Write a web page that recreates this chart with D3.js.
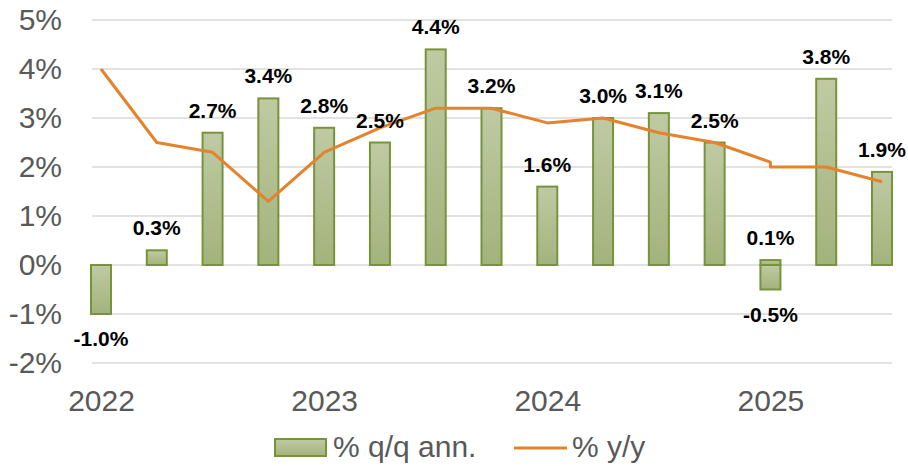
<!DOCTYPE html>
<html>
<head>
<meta charset="utf-8">
<title>GDP growth</title>
<script src="https://cdn.jsdelivr.net/npm/d3@7"></script>
<style>
body { margin: 0; background: #fff; }
svg { font-family: "Liberation Sans", Arial, sans-serif; }
.grid line { stroke: #d9d9d9; stroke-width: 1.5px; }
.axis text { fill: #595959; font-size: 30px; }
.axis path, .axis line { display: none; }
.lbl { font-size: 21px; font-weight: bold; fill: #000; text-anchor: middle; }
.legend text { fill: #595959; font-size: 30px; }
</style>
</head>
<body>
<svg width="908" height="466"></svg>
<script>
// quarters (2025Q1 shows up twice in the source data)
var quarters = ["2022Q1","2022Q2","2022Q3","2022Q4",
                "2023Q1","2023Q2","2023Q3","2023Q4",
                "2024Q1","2024Q2","2024Q3","2024Q4",
                "2025Q1","2025Q1","2025Q2","2025Q3"];
var qoqAnn = [-1.0, 0.3, 2.7, 3.4, 2.8, 2.5, 4.4, 3.2, 1.6, 3.0, 3.1, 2.5, -0.5, 0.1, 3.8, 1.9];
var yoy    = [4.0, 2.5, 2.3, 1.3, 2.3, 2.8, 3.2, 3.2, 2.9, 3.0, 2.7, 2.5, 2.1, 2.0, 2.0, 1.7];
var yearLabels = ["2022", "2023", "2024", "2025"];
var yTicks = [-2, -1, 0, 1, 2, 3, 4, 5];

var svg = d3.select("svg");

// quarter string -> index from 2022Q1
function qIndex(s) {
  return (+s.slice(0, 4) - 2022) * 4 + (+s.slice(5) - 1);
}
var data = quarters.map(function(q, i) {
  return {q: q, i: qIndex(q), bar: qoqAnn[i], line: yoy[i]};
});

var x = d3.scaleLinear().domain([0, 14]).range([101, 882]),
    y = d3.scaleLinear().domain([-2, 5]).range([363, 20]);
var barW = 20;

// gradient for bars
var defs = svg.append("defs");
var grad = defs.append("linearGradient")
  .attr("id", "barGrad").attr("x1", 0).attr("y1", 0).attr("x2", 0).attr("y2", 1);
grad.append("stop").attr("offset", "0%").attr("stop-color", "#bfcaa3");
grad.append("stop").attr("offset", "100%").attr("stop-color", "#a3b37c");

// gridlines
svg.append("g").attr("class", "grid")
  .selectAll("line").data(yTicks).enter().append("line")
  .attr("x1", 92).attr("x2", 892)
  .attr("y1", function(d) { return y(d); })
  .attr("y2", function(d) { return y(d); });

// y axis
svg.append("g").attr("class", "axis")
  .attr("transform", "translate(92,0)")
  .call(d3.axisLeft(y).tickValues(yTicks).tickSize(0).tickPadding(30)
    .tickFormat(function(d) { return d + "%"; }));

// x axis, year labels at Q1
svg.append("g").attr("class", "axis")
  .attr("transform", "translate(0,363)")
  .call(d3.axisBottom(x).tickValues([0, 4, 8, 12]).tickSize(0).tickPadding(27)
    .tickFormat(function(d, k) { return yearLabels[k]; }));

// bars
svg.append("g").selectAll("rect").data(data).enter().append("rect")
  .attr("x", function(d) { return x(d.i) - barW / 2; })
  .attr("width", barW)
  .attr("y", function(d) { return y(Math.max(0, d.bar)); })
  .attr("height", function(d) { return Math.abs(y(d.bar) - y(0)); })
  .attr("fill", "url(#barGrad)")
  .attr("stroke", "#77933c")
  .attr("stroke-width", 2);

// y/y line
var line = d3.line()
  .x(function(d) { return x(d.i); })
  .y(function(d) { return y(d.line); });
svg.append("path").datum(data)
  .attr("d", line)
  .attr("fill", "none")
  .attr("stroke", "#e3832b")
  .attr("stroke-width", 3)
  .attr("stroke-linejoin", "round");

// data labels
svg.append("g").selectAll("text").data(data).enter().append("text")
  .attr("class", "lbl")
  .attr("x", function(d) { return x(d.i); })
  .attr("y", function(d) { return d.bar >= 0 ? y(d.bar) - 15 : y(d.bar) + 32; })
  .text(function(d) { return d.bar.toFixed(1) + "%"; });

// legend
var lg = svg.append("g").attr("class", "legend");
lg.append("rect").attr("x", 275).attr("y", 439).attr("width", 51).attr("height", 17)
  .attr("fill", "url(#barGrad)").attr("stroke", "#77933c").attr("stroke-width", 2);
lg.append("text").attr("x", 333).attr("y", 457).text("% q/q ann.");
lg.append("line").attr("x1", 514).attr("x2", 567).attr("y1", 448).attr("y2", 448)
  .attr("stroke", "#e3832b").attr("stroke-width", 3);
lg.append("text").attr("x", 572).attr("y", 457).text("% y/y");
</script>
</body>
</html>
